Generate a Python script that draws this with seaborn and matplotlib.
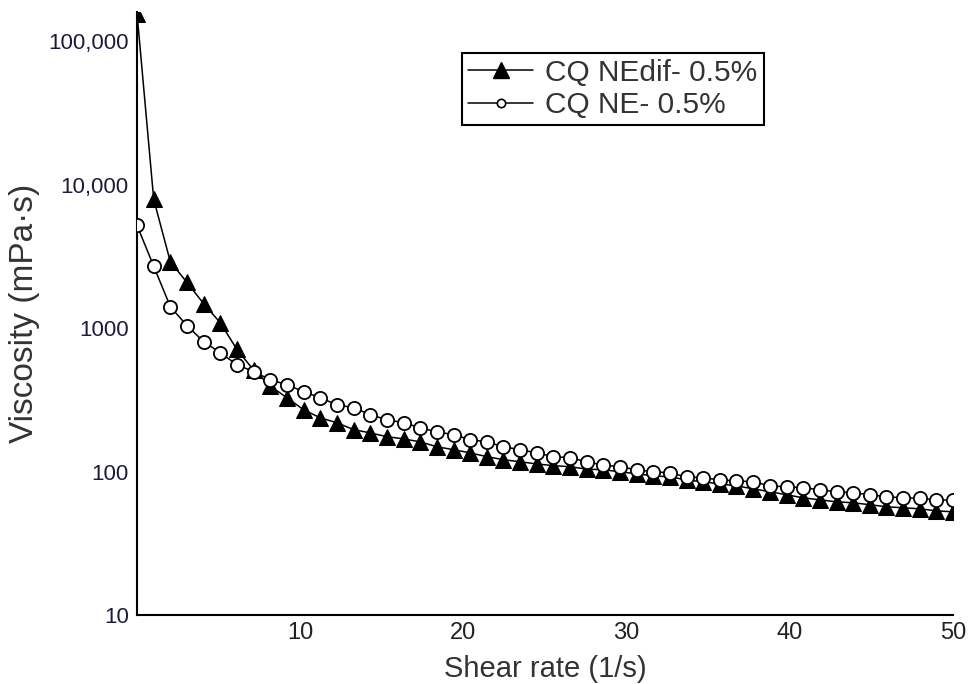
import matplotlib
matplotlib.use('Agg')
import matplotlib.pyplot as plt
import seaborn as sns
from matplotlib.lines import Line2D

# Shear rate (1/s) and viscosity (mPa·s)
shear_rate = [0.0, 1.02, 2.04, 3.06, 4.08, 5.10, 6.12, 7.14, 8.16, 9.18,
              10.20, 11.22, 12.24, 13.27, 14.29, 15.31, 16.33, 17.35, 18.37, 19.39,
              20.41, 21.43, 22.45, 23.47, 24.49, 25.51, 26.53, 27.55, 28.57, 29.59,
              30.61, 31.63, 32.65, 33.67, 34.69, 35.71, 36.73, 37.76, 38.78, 39.80,
              40.82, 41.84, 42.86, 43.88, 44.90, 45.92, 46.94, 47.96, 48.98, 50.0]

visc_nedif = [155000, 7900, 2900, 2080, 1480, 1090, 710, 510, 395, 327,
              270, 237, 219, 196, 186, 175, 169, 161, 149, 142,
              135, 127, 121, 117, 113, 110, 108, 104, 103, 99.6,
              96.4, 93.3, 91.8, 87.5, 84.7, 82.0, 79.4, 75.8, 72.3, 68.9,
              65.6, 63.5, 61.5, 60.6, 58.7, 56.8, 55.9, 55.0, 53.2, 52.4]

visc_ne = [5200, 2700, 1410, 1040, 805, 673, 556, 497, 437, 403,
           361, 327, 292, 279, 249, 230, 219, 202, 189, 181,
           167, 161, 149, 142, 135, 127, 125, 117, 111, 108,
           103, 99.6, 98, 91.8, 90.4, 87.5, 86, 85, 79.4, 78.3,
           77.1, 74.6, 72.3, 71.1, 68.9, 66.7, 65.6, 65, 63.5, 63]

series_labels = ['CQ NEdif- 0.5%', 'CQ NE- 0.5%']
x_ticks = [10, 20, 30, 40, 50]
y_ticks = [10, 100, 1000, 10000, 100000]
y_tick_labels = ['10', '100', '1000', '10,000', '100,000']

sns.set_style('white')
plt.rcParams['font.family'] = ['Liberation Sans', 'DejaVu Sans']

fig, ax = plt.subplots(figsize=(9.79, 6.84), dpi=100)
fig.subplots_adjust(left=0.14, right=0.9735, bottom=0.1009, top=0.9825)

# triangles first, open circles on top
sns.lineplot(x=shear_rate, y=visc_nedif, ax=ax, color='black', lw=1.1,
             marker='^', markersize=12, markerfacecolor='black',
             markeredgecolor='black', zorder=3)
sns.lineplot(x=shear_rate, y=visc_ne, ax=ax, color='black', lw=1.1,
             marker='o', markersize=9.5, markerfacecolor='white',
             markeredgecolor='black', markeredgewidth=1.3, zorder=4)

ax.set_yscale('log')
ax.set_xlim(0, 50)
ax.set_ylim(10, 1.6e5)
ax.set_xticks(x_ticks)
ax.set_xticklabels([str(t) for t in x_ticks])
ax.set_yticks(y_ticks)
ax.set_yticklabels(y_tick_labels)
ax.minorticks_off()
ax.tick_params(axis='both', length=0)
ax.tick_params(axis='y', pad=6, labelsize=16, labelcolor='#1c1c3a')
ax.tick_params(axis='x', pad=5, labelsize=17, labelcolor='#222222')

sns.despine(ax=ax)
for side in ['left', 'bottom']:
    ax.spines[side].set_color('black')
    ax.spines[side].set_linewidth(1.5)

ax.set_xlabel('Shear rate (1/s)', fontsize=21, color='#333333', labelpad=8)
ax.set_ylabel('Viscosity (mPa\u00b7s)', fontsize=24, color='#333333', labelpad=6)

handles = [
    Line2D([], [], color='black', lw=1.1, marker='^', markersize=12,
           markerfacecolor='black', markeredgecolor='black'),
    Line2D([], [], color='black', lw=1.1, marker='o', markersize=6,
           markerfacecolor='white', markeredgecolor='black', markeredgewidth=1.2),
]
leg = ax.legend(handles, series_labels, loc='upper left',
                bbox_to_anchor=(0.398, 0.932), fontsize=21.5, frameon=True,
                fancybox=False, framealpha=1, edgecolor='black',
                handlelength=2.2, handletextpad=0.4, labelspacing=0.15,
                borderpad=0.2, borderaxespad=0)
leg.get_frame().set_linewidth(1.5)
for txt in leg.get_texts():
    txt.set_color('#333333')

fig.savefig('out.png', dpi=100)
